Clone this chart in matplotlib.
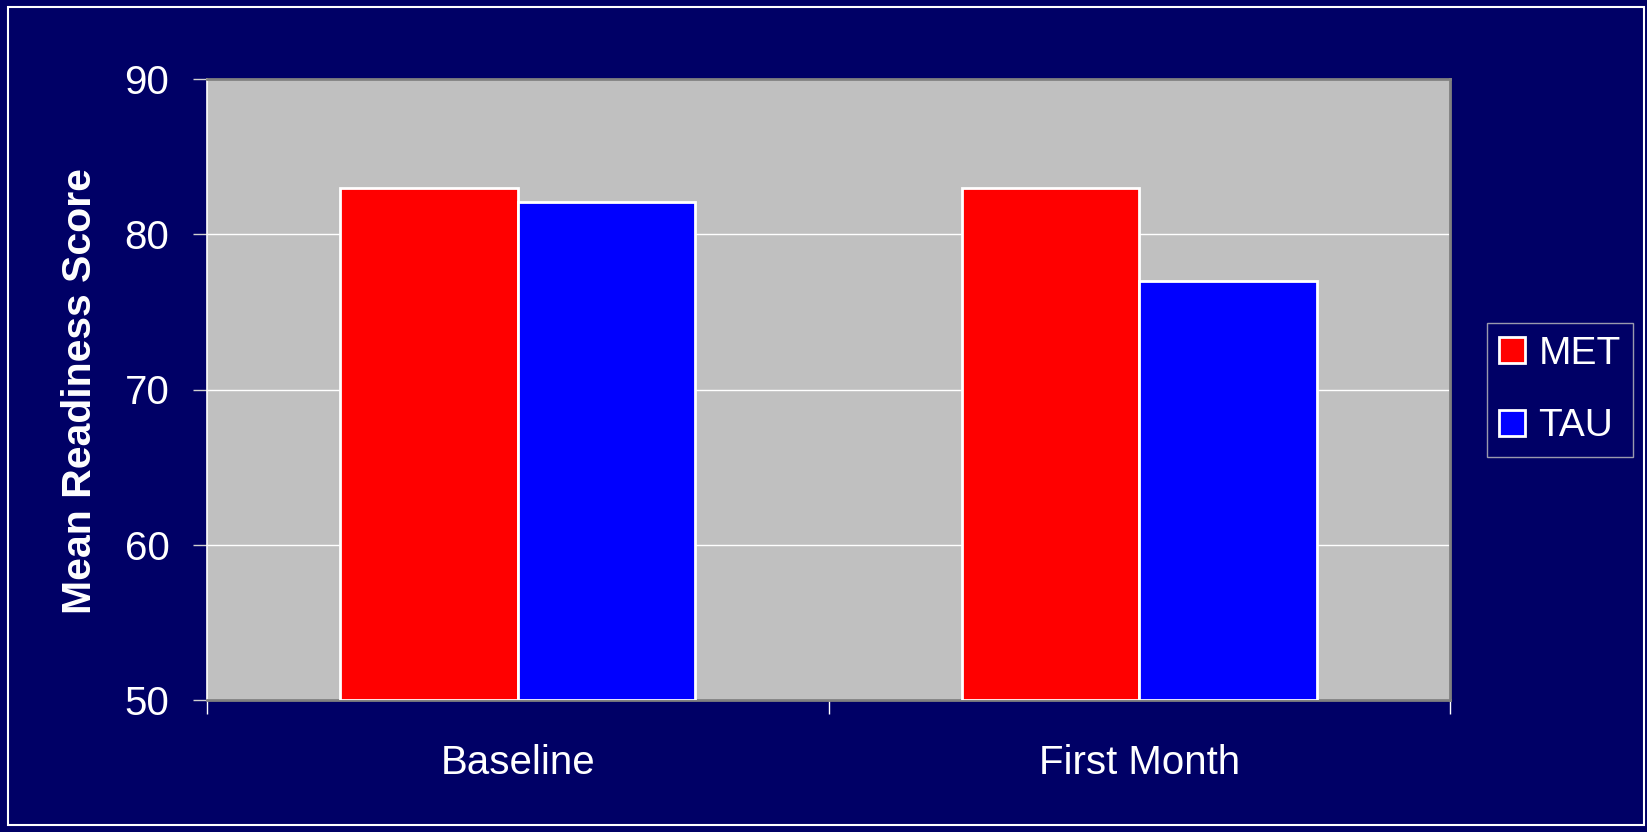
import matplotlib
matplotlib.use("Agg")
import matplotlib.pyplot as plt
import matplotlib.patches as patches
import numpy as np

plt.rcParams['font.family'] = ['Liberation Sans', 'DejaVu Sans']

categories = ["Baseline", "First Month"]
met_scores = [83, 83]
tau_scores = [82.1, 77]
series_names = ["MET", "TAU"]
y_ticks = [50, 60, 70, 80, 90]

bg = '#000066'
fig = plt.figure(figsize=(16.47, 8.32), dpi=100, facecolor=bg)
ax = fig.add_axes([207/1647, 132/832, 1243/1647, 621/832])
ax.set_facecolor('#c0c0c0')

x = np.arange(len(categories))
w = 1 / 3.5   # two bars plus a 150% gap
ax.bar(x - w/2, np.array(met_scores) - 50, w, bottom=50, color='#ff0000',
       edgecolor='white', linewidth=2, label=series_names[0], zorder=3)
ax.bar(x + w/2, np.array(tau_scores) - 50, w, bottom=50, color='#0000ff',
       edgecolor='white', linewidth=2, label=series_names[1], zorder=3)

ax.set_xlim(-0.5, len(categories) - 0.5)
ax.set_ylim(50, 90)
ax.set_yticks(y_ticks)
ax.set_yticklabels([str(t) for t in y_ticks])
ax.yaxis.grid(True, color='white', linewidth=1, zorder=1)

ax.set_xticks(x)
ax.set_xticklabels(categories)
ax.set_xticks(np.arange(-0.5, len(categories)), minor=True)
ax.tick_params(axis='x', which='major', length=0, pad=32, labelsize=29, labelcolor='white')
ax.tick_params(axis='x', which='minor', length=10, width=1, color='white', direction='out')
ax.tick_params(axis='y', length=10, width=1, color='#d0d0d0', pad=17, labelsize=29,
               labelcolor='white', direction='out')

for side in ['top', 'right', 'bottom']:
    ax.spines[side].set_color('#808080')
    ax.spines[side].set_linewidth(2)
ax.spines['left'].set_color('white')
ax.spines['left'].set_linewidth(1.2)

fig.text(80/1647, 0.53, "Mean Readiness Score", rotation=90, color='white',
         fontsize=29.5, fontweight='bold', ha='center', va='center')

leg = ax.legend(loc='center left', bbox_to_anchor=(1487/1647, 442/832),
                bbox_transform=fig.transFigure, fontsize=28, frameon=True,
                fancybox=False, facecolor=bg, edgecolor='#c0c0c0',
                handlelength=0.65, handleheight=0.65, handletextpad=0.35,
                labelspacing=0.95, borderpad=0.32, borderaxespad=0)
leg.get_frame().set_linewidth(1)
for txt in leg.get_texts():
    txt.set_color('white')

# white frame around the whole slide
fig.patches.append(patches.Rectangle((8/1647, 7/832), 1636/1647, 818/832,
                                     transform=fig.transFigure, fill=False,
                                     edgecolor='white', linewidth=1.5))

fig.savefig("out.png", dpi=100, facecolor=bg)
